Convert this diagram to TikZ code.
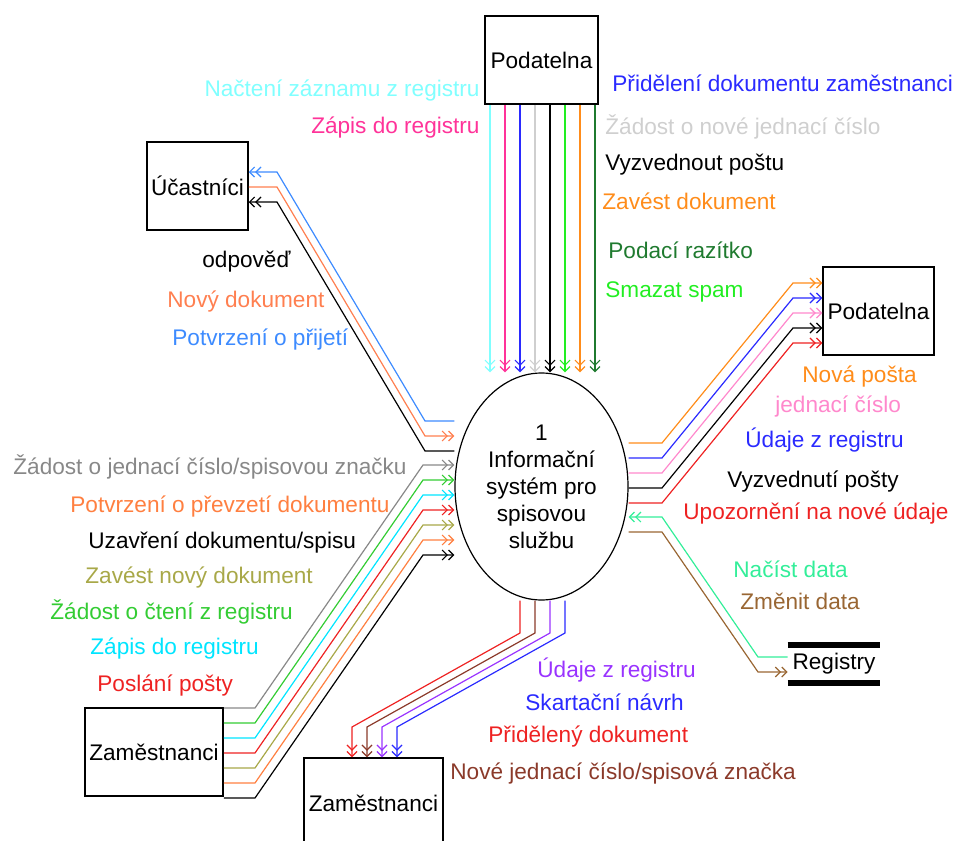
\documentclass[tikz,border=0pt]{standalone}
\usepackage{fontspec}
\setmainfont{Liberation Sans}
\usetikzlibrary{arrows.meta,shapes.geometric}

\definecolor{lcyan}{HTML}{80FFFF}
\definecolor{hpink}{HTML}{FF3399}
\definecolor{dblue}{HTML}{2A2AFF}
\definecolor{lgrey}{HTML}{CFCFCF}
\definecolor{lgreen}{HTML}{22EE22}
\definecolor{dorange}{HTML}{FF8C1A}
\definecolor{dgreen}{HTML}{1F7A2F}
\definecolor{sky}{HTML}{3D8BFF}
\definecolor{coral}{HTML}{FF7F50}
\definecolor{lpink}{HTML}{FF88CC}
\definecolor{dred}{HTML}{EE2222}
\definecolor{spring}{HTML}{33EE99}
\definecolor{dtan}{HTML}{996633}
\definecolor{mgrey}{HTML}{888888}
\definecolor{mgreen}{HTML}{33CC33}
\definecolor{mcyan}{HTML}{00E5FF}
\definecolor{olivec}{HTML}{A8A848}
\definecolor{morange}{HTML}{FF7F40}
\definecolor{maroonc}{HTML}{8B3A2A}
\definecolor{violetc}{HTML}{9933FF}

\begin{document}
\begin{tikzpicture}[x=0.5pt, y=-0.5pt,
    every node/.style={font=\fontsize{11.3}{13.5}\selectfont},
    entity/.style={draw, line width=0.75pt, inner sep=0},
    lbl/.style={inner sep=0, text height=8pt, text depth=0.5pt},
    flow/.style={line width=0.6pt, -{Straight Barb[length=2.5pt,width=5pt]Straight Barb[length=2.5pt,width=5pt]}}]
  \useasboundingbox (0,0) rectangle (955,841);

  % process and entities
  \node[ellipse, draw, line width=0.6pt, minimum width=86.5pt, minimum height=113.5pt,
        inner sep=0, align=center] (sys) at (541.5,486.5) {1\\Informační\\systém pro\\spisovou\\službu};
  \node[entity, minimum width=56.5pt, minimum height=44pt] (podtop) at (541.5,60) {Podatelna};
  \node[entity, minimum width=50.5pt, minimum height=44pt] (ucast) at (197.5,186) {Účastníci};
  \node[entity, minimum width=55.5pt, minimum height=44pt] (podright) at (878.5,311) {Podatelna};
  \node[entity, minimum width=69pt, minimum height=44pt] (zamleft) at (154,752) {Zaměstnanci};
  \node[entity, minimum width=69.5pt, minimum height=45pt] (zambot) at (373.5,803) {Zaměstnanci};
  \node[inner sep=0, minimum width=46pt, minimum height=19pt] (reg) at (834,664) {Registry};
  \draw[line width=3pt] (reg.north west) -- (reg.north east);
  \draw[line width=3pt] (reg.south west) -- (reg.south east);

  % Podatelna (top)
  \foreach \dx/\c in {-51.5/lcyan, -36.5/hpink, -21.5/dblue, -6.5/lgrey, 8.5/black, 23.5/lgreen, 38.5/dorange, 53.5/dgreen} {
    \path (podtop.south) ++(\dx,0) coordinate (t);
    \draw[flow, \c] (t) -- (t |- sys.north);
  }
  \node[lbl, anchor=east, text=lcyan] (lNacteni) at (480,89) {Načtení záznamu z registru};
  \node[lbl, anchor=east, text=hpink] (lZapisTop) at (480,126) {Zápis do registru};
  \node[lbl, anchor=west, text=dblue] (lPrideleni) at (612,84) {Přidělení dokumentu zaměstnanci};
  \node[lbl, anchor=west, text=lgrey] (lZadostNove) at (605,127) {Žádost o nové jednací číslo};
  \node[lbl, anchor=west] (lVyzvednout) at (605,163) {Vyzvednout poštu};
  \node[lbl, anchor=west, text=dorange] (lZavest) at (602,202) {Zavést dokument};
  \node[lbl, anchor=west, text=dgreen] (lRazitko) at (608,251) {Podací razítko};
  \node[lbl, anchor=west, text=lgreen] (lSpam) at (605,290) {Smazat spam};

  % Ucastnici
  \draw[flow, sky] (sys.west |- 0,421) -- (425,421) -- (277,172) -- (ucast.east |- 0,172);
  \draw[flow, coral] (ucast.east |- 0,187) -- (277,187) -- (425,436) -- (sys.west |- 0,436);
  \draw[flow, black] (sys.west |- 0,451) -- (425,451) -- (277,202) -- (ucast.east |- 0,202);
  \node[lbl, anchor=west] (lOdpoved) at (202,260) {odpověď};
  \node[lbl, anchor=west, text=coral] (lNovyDok) at (167,300) {Nový dokument};
  \node[lbl, anchor=west, text=sky] (lPotvrzeni) at (172,338) {Potvrzení o přijetí};

  % Podatelna (right)
  \foreach \y/\c in {443/dorange, 458/dblue, 473/lpink, 488/black, 503/dred}
    \draw[flow, \c] (sys.east |- 0,\y) -- (662,\y) -- (793,\y-160) -- (podright.west |- 0,\y-160);
  \node[lbl, anchor=west, text=dorange] (lNovaPosta) at (802,375) {Nová pošta};
  \node[lbl, anchor=west, text=lpink] (lJednaci) at (775,405) {jednací číslo};
  \node[lbl, anchor=west, text=dblue] (lUdajeR) at (745,440) {Údaje z registru};
  \node[lbl, anchor=west] (lVyzvednuti) at (727,480) {Vyzvednutí pošty};
  \node[lbl, anchor=west, text=dred] (lUpozorneni) at (683,512) {Upozornění na nové údaje};

  % Registry
  \draw[flow, spring] (reg.west |- 0,657) -- (758,657) -- (662,517) -- (sys.east |- 0,517);
  \draw[flow, dtan] (sys.east |- 0,532) -- (662,532) -- (758,672) -- (reg.west |- 0,672);
  \node[lbl, anchor=west, text=spring] (lNacist) at (733,570) {Načíst data};
  \node[lbl, anchor=west, text=dtan] (lZmenit) at (740,602) {Změnit data};

  % Zamestnanci (left)
  \foreach \y/\c in {708/mgrey, 723/mgreen, 738/mcyan, 753/dred, 768/olivec, 783/morange, 798/black}
    \draw[flow, \c] (zamleft.east |- 0,\y) -- (255,\y) -- (423,\y-243) -- (sys.west |- 0,\y-243);
  \node[lbl, anchor=west, text=mgrey] (lZadostJC) at (13,467) {Žádost o jednací číslo/spisovou značku};
  \node[lbl, anchor=west, text=morange] (lPrevzeti) at (70,505) {Potvrzení o převzetí dokumentu};
  \node[lbl, anchor=west] (lUzavreni) at (88,541) {Uzavření dokumentu/spisu};
  \node[lbl, anchor=west, text=olivec] (lZavestNovy) at (85,576) {Zavést nový dokument};
  \node[lbl, anchor=west, text=mgreen] (lCteni) at (50,612) {Žádost o čtení z registru};
  \node[lbl, anchor=west, text=mcyan] (lZapisLeft) at (90,647) {Zápis do registru};
  \node[lbl, anchor=west, text=dred] (lPoslani) at (97,684) {Poslání pošty};

  % Zamestnanci (bottom)
  \foreach \x/\c in {520/dred, 535/maroonc, 550/violetc, 565/dblue}
    \draw[flow, \c] (sys.south -| \x,0) -- (\x,633) -- (\x-168,727) -- (zambot.north -| \x-168,0);
  \node[lbl, anchor=west, text=violetc] (lUdajeB) at (537,670) {Údaje z registru};
  \node[lbl, anchor=west, text=dblue] (lSkartace) at (525,703) {Skartační návrh};
  \node[lbl, anchor=west, text=dred] (lPrideleny) at (488,735) {Přidělený dokument};
  \node[lbl, anchor=west, text=maroonc] (lNoveJC) at (450,772) {Nové jednací číslo/spisová značka};
\end{tikzpicture}
\end{document}
